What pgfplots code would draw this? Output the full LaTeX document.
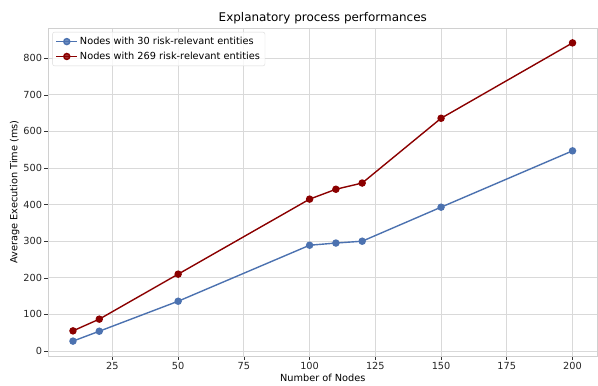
\documentclass[border=0pt]{standalone}
\usepackage{pgfplots}
\pgfplotsset{compat=1.18}
\usepackage{fontspec}
\setmainfont{DejaVu Sans}
\definecolor{sblue}{HTML}{4C72B0}
\definecolor{sred}{HTML}{8B0000}
\definecolor{gridc}{HTML}{D9D9D9}
\definecolor{spinec}{HTML}{D0D0D0}
\begin{document}
\begin{tikzpicture}
\begin{axis}[
  name=ax,
  scale only axis,
  width=549.5bp, height=328bp,
  xmin=0.5, xmax=209.5,
  ymin=-13.7, ymax=882.7,
  xtick={25,50,...,200},
  ytick={0,100,...,800},
  grid=major,
  major grid style={draw=gridc, line width=0.8bp},
  axis line style={draw=spinec, line width=0.8bp},
  tick style={draw=black!80, line width=0.6bp},
  tick align=outside,
  major tick length=3.5bp,
  xtick pos=bottom, ytick pos=left,
  /pgf/number format/assume math mode=true,
  ticklabel style={font=\fontsize{9.8}{11}\selectfont, text=black!85},
  xticklabel style={yshift=1bp},
  yticklabel style={xshift=1bp},
  xlabel={Number of Nodes},
  ylabel={Average Execution Time (ms)},
  label style={font=\fontsize{9.8}{11}\selectfont},
  xlabel style={yshift=2bp},
  ylabel style={yshift=-3bp},
  title={Explanatory process performances},
  title style={font=\fontsize{12}{14}\selectfont, yshift=-5bp},
  legend style={font=\fontsize{9.8}{11}\selectfont, draw=gridc, rounded corners=2bp, fill=white, fill opacity=0.8, text opacity=1, row sep=2bp, inner xsep=3bp, inner ysep=3bp, at={(0.008,0.988)}, anchor=north west},
  legend cell align=left,
  legend image code/.code={\draw[#1] (0bp,0bp) -- (10.5bp,0bp) -- (21bp,0bp); \draw[#1, only marks] plot coordinates {(10.5bp,0bp)};},
]
\addplot[sblue, line width=1.4bp, mark=*, mark size=3bp, mark options={solid}] coordinates {
(10,27) (20,54) (50,136) (100,289) (110,295) (120,300) (150,393) (200,547)};
\addlegendentry{Nodes with 30 risk-relevant entities}
\addplot[sred, line width=1.4bp, mark=*, mark size=3bp, mark options={solid}] coordinates {
(10,55) (20,87) (50,210) (100,415) (110,442) (120,459) (150,636) (200,842)};
\addlegendentry{Nodes with 269 risk-relevant entities}
\end{axis}
\path[use as bounding box] ([xshift=-48bp,yshift=-29bp]ax.south west) rectangle ([xshift=0.5bp,yshift=28bp]ax.north east);
\end{tikzpicture}
\end{document}
